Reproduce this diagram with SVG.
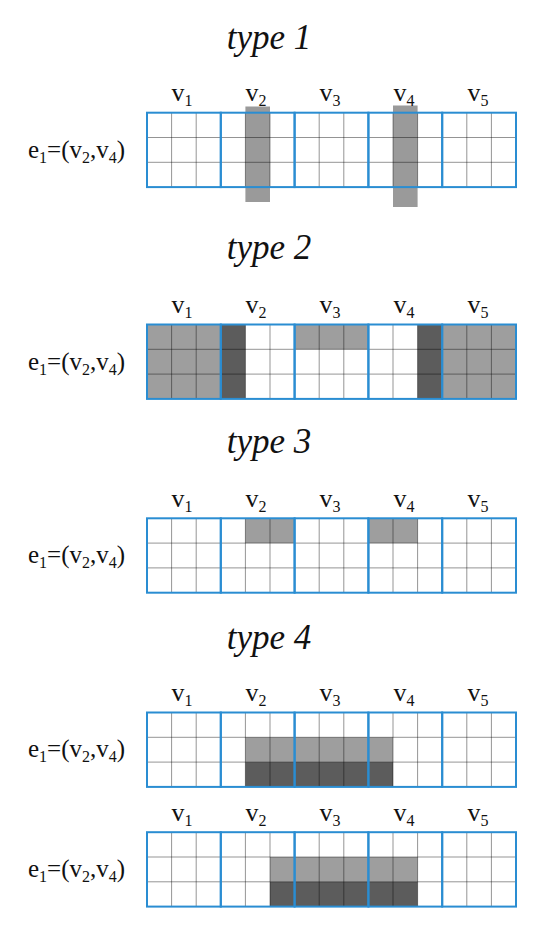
<svg xmlns="http://www.w3.org/2000/svg" xmlns:xlink="http://www.w3.org/1999/xlink" width="540" height="930" viewBox="0 0 540 930">
<style>
.title{font-family:"Liberation Serif",serif;font-style:italic;font-size:35px;fill:#111;text-anchor:middle}
.v{font-family:"Liberation Serif",serif;font-size:26px;fill:#111;text-anchor:middle}
.e{font-family:"Liberation Serif",serif;font-size:25px;fill:#111}
.sub{font-size:16px}
.light{fill:#9e9e9e}
.dark{fill:#5c5c5c}
.bar{fill:#9a9a9a}
.cell{stroke:#000;stroke-opacity:0.42;stroke-width:1;fill:none}
.blk{stroke:#2a8dd2;stroke-width:2;fill:none}
</style>
<defs>
<g id="grid">
<path class="cell" d="M171.6 0V74.4M196.2 0V74.4M245.4 0V74.4M270 0V74.4M319.2 0V74.4M343.8 0V74.4M393 0V74.4M417.6 0V74.4M466.8 0V74.4M491.4 0V74.4M147 24.8H516M147 49.6H516"/>
<rect class="blk" x="147" y="0" width="73.8" height="74.4"/>
<rect class="blk" x="220.8" y="0" width="73.8" height="74.4"/>
<rect class="blk" x="294.6" y="0" width="73.8" height="74.4"/>
<rect class="blk" x="368.4" y="0" width="73.8" height="74.4"/>
<rect class="blk" x="442.2" y="0" width="73.8" height="74.4"/>
</g>
<g id="vlabels">
<text class="v" x="182" y="0">v<tspan class="sub" dy="5">1</tspan></text>
<text class="v" x="256" y="0">v<tspan class="sub" dy="5">2</tspan></text>
<text class="v" x="330" y="0">v<tspan class="sub" dy="5">3</tspan></text>
<text class="v" x="404" y="0">v<tspan class="sub" dy="5">4</tspan></text>
<text class="v" x="478" y="0">v<tspan class="sub" dy="5">5</tspan></text>
</g>
<g id="elabel">
<text class="e" x="28" y="0">e<tspan class="sub" dy="5">1</tspan><tspan dy="-5">=(v</tspan><tspan class="sub" dy="5">2</tspan><tspan dy="-5">,v</tspan><tspan class="sub" dy="5">4</tspan><tspan dy="-5">)</tspan></text>
</g>
</defs>

<g id="type1">
<text class="title" x="269" y="49">type 1</text>
<rect class="bar" x="245.4" y="106.5" width="24.6" height="95.5"/>
<rect class="bar" x="393" y="105.5" width="24.6" height="101.5"/>
<use xlink:href="#grid" y="112.7"/>
<use xlink:href="#vlabels" y="101"/>
<use xlink:href="#elabel" y="158"/>
</g>

<g id="type2">
<text class="title" x="269" y="259">type 2</text>
<rect class="light" x="147" y="324.5" width="73.8" height="74.4"/>
<rect class="light" x="442.2" y="324.5" width="73.8" height="74.4"/>
<rect class="light" x="294.6" y="324.5" width="73.8" height="24.8"/>
<rect class="dark" x="220.8" y="324.5" width="24.6" height="74.4"/>
<rect class="dark" x="417.6" y="324.5" width="24.6" height="74.4"/>
<use xlink:href="#grid" y="324.5"/>
<use xlink:href="#vlabels" y="313"/>
<use xlink:href="#elabel" y="370"/>
</g>

<g id="type3">
<text class="title" x="269" y="453">type 3</text>
<rect class="light" x="245.4" y="518.3" width="49.2" height="24.8"/>
<rect class="light" x="368.4" y="518.3" width="49.2" height="24.8"/>
<use xlink:href="#grid" y="518.3"/>
<use xlink:href="#vlabels" y="507"/>
<use xlink:href="#elabel" y="563"/>
</g>

<g id="type4a">
<text class="title" x="269" y="649">type 4</text>
<rect class="light" x="245.4" y="737.3" width="147.6" height="24.8"/>
<rect class="dark" x="245.4" y="762.1" width="147.6" height="24.8"/>
<use xlink:href="#grid" y="712.5"/>
<use xlink:href="#vlabels" y="701"/>
<use xlink:href="#elabel" y="757"/>
</g>

<g id="type4b">
<rect class="light" x="270" y="857" width="147.6" height="24.8"/>
<rect class="dark" x="270" y="881.8" width="147.6" height="24.8"/>
<use xlink:href="#grid" y="832.2"/>
<use xlink:href="#vlabels" y="821"/>
<use xlink:href="#elabel" y="877"/>
</g>
</svg>
